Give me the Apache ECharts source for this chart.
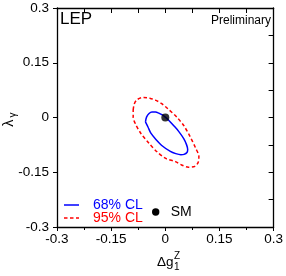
<!DOCTYPE html>
<html>
<head>
<meta charset="utf-8">
<script src="https://cdn.jsdelivr.net/npm/echarts@6/dist/echarts.min.js"></script>
<style>
html,body{margin:0;padding:0;background:#fff;}
#chart{width:286px;height:276px;}
</style>
</head>
<body>
<div id="chart"></div>
<script>
// Tick labels
var xTickLabels = ['-0.3', '-0.15', '0', '0.15', '0.3'];
var yTickLabels = ['-0.3', '-0.15', '0', '0.15', '0.3'];
var tickValues = [-0.3, -0.15, 0, 0.15, 0.3];

// 68% CL contour (Δg1Z, λγ)
var cl68 = [
  [-0.055, -0.012], [-0.052, 0.001], [-0.045, 0.011], [-0.037, 0.015],
  [-0.027, 0.015], [-0.018, 0.012], [-0.008, 0.007], [0.000, 0.001],
  [0.010, -0.008], [0.023, -0.022], [0.037, -0.038], [0.051, -0.058],
  [0.059, -0.075], [0.062, -0.088], [0.060, -0.096], [0.052, -0.101],
  [0.043, -0.102], [0.029, -0.099], [0.014, -0.093], [-0.008, -0.078],
  [-0.026, -0.060], [-0.040, -0.043], [-0.048, -0.026], [-0.055, -0.012]
];

// 95% CL contour
var cl95 = [
  [-0.089, 0.021], [-0.086, 0.037], [-0.078, 0.049], [-0.060, 0.055],
  [-0.043, 0.053], [-0.026, 0.047], [-0.010, 0.038], [0.008, 0.023],
  [0.032, 0.001], [0.051, -0.022], [0.069, -0.053], [0.084, -0.084],
  [0.093, -0.107], [0.091, -0.123], [0.082, -0.134], [0.064, -0.136],
  [0.045, -0.130], [0.028, -0.121], [0.001, -0.112], [-0.023, -0.094],
  [-0.045, -0.071], [-0.068, -0.043], [-0.082, -0.019], [-0.089, 0.001],
  [-0.089, 0.021]
];

// Standard Model point
var smPoint = [[0, 0]];

// Legend entries
var legendNames = ['68% CL', '95% CL', 'SM'];

var FONT = '"Liberation Sans", Arial, Helvetica, sans-serif';
var BLUE = '#0000ff', RED = '#ff0000';
var chart = echarts.init(document.getElementById('chart'), null, {renderer: 'canvas'});

function fmt(labels) {
  return function (v) {
    for (var i = 0; i < tickValues.length; i++) {
      if (Math.abs(v - tickValues[i]) < 1e-6) return labels[i];
    }
    return '';
  };
}

var axisCommon = {
  type: 'value', min: -0.3, max: 0.3, interval: 0.15,
  splitLine: {show: false},
  axisLine: {show: true, onZero: false, lineStyle: {color: '#000', width: 1.3}}
};

chart.setOption({
  animation: false,
  backgroundColor: '#fff',
  grid: {left: 57, right: 10, top: 8, bottom: 49},
  xAxis: [
    Object.assign({}, axisCommon, {
      position: 'bottom',
      axisTick: {show: true, inside: false, length: 4, lineStyle: {color: '#000', width: 1}},
      minorTick: {show: true, splitNumber: 2, length: 3, lineStyle: {color: '#000', width: 1}},
      axisLabel: {show: true, margin: 5, color: '#000', fontSize: 13.5, fontFamily: FONT, formatter: fmt(xTickLabels)}
    }),
    Object.assign({}, axisCommon, {
      position: 'top',
      axisTick: {show: true, inside: true, length: 5, lineStyle: {color: '#000', width: 1}},
      minorTick: {show: true, splitNumber: 2, length: 5, lineStyle: {color: '#000', width: 1}},
      axisLabel: {show: false}
    })
  ],
  yAxis: [
    Object.assign({}, axisCommon, {
      position: 'left',
      axisTick: {show: true, inside: false, length: 4, lineStyle: {color: '#000', width: 1}},
      axisLabel: {show: true, margin: 8, color: '#000', fontSize: 13.5, fontFamily: FONT, formatter: fmt(yTickLabels)}
    }),
    Object.assign({}, axisCommon, {
      position: 'right',
      axisTick: {show: true, inside: true, length: 5, lineStyle: {color: '#000', width: 1}},
      minorTick: {show: true, splitNumber: 2, length: 5, lineStyle: {color: '#000', width: 1}},
      axisLabel: {show: false}
    })
  ],
  series: [
    {
      name: legendNames[1], type: 'line', data: cl95, smooth: 0.3, symbol: 'none',
      xAxisIndex: 0, yAxisIndex: 0,
      lineStyle: {color: RED, width: 1.5, type: [3.5, 2.5]},
      itemStyle: {color: RED}
    },
    {
      name: legendNames[0], type: 'line', data: cl68, smooth: 0.3, symbol: 'none',
      xAxisIndex: 0, yAxisIndex: 0,
      lineStyle: {color: BLUE, width: 1.5},
      itemStyle: {color: BLUE}
    },
    {
      name: legendNames[2], type: 'scatter', data: smPoint, symbol: 'circle', symbolSize: 8,
      xAxisIndex: 0, yAxisIndex: 0, z: 5,
      itemStyle: {color: '#000'}
    }
  ],
  graphic: [
    {type: 'text', left: 60, top: 11, style: {text: 'LEP', fill: '#000', font: '17px ' + FONT}},
    {type: 'text', right: 15, top: 15, style: {text: 'Preliminary', fill: '#000', font: '12px ' + FONT}},
    {type: 'text', x: 157, y: 262.5, style: {text: 'Δg', fill: '#000', font: '13.5px ' + FONT, textAlign: 'left', textVerticalAlign: 'middle'}},
    {type: 'text', x: 174, y: 256.5, style: {text: 'Z', fill: '#000', font: '10px ' + FONT, textAlign: 'left', textVerticalAlign: 'middle'}},
    {type: 'text', x: 174, y: 267.5, style: {text: '1', fill: '#000', font: '10px ' + FONT, textAlign: 'left', textVerticalAlign: 'middle'}},
    {type: 'group', x: 9, y: 117, rotation: Math.PI / 2, children: [
      {type: 'text', x: -6, y: 0, style: {text: 'λ', fill: '#000', font: '14.5px ' + FONT, textAlign: 'center', textVerticalAlign: 'middle'}},
      {type: 'text', x: 2, y: 4, style: {text: 'γ', fill: '#000', font: '10px ' + FONT, textAlign: 'center', textVerticalAlign: 'middle'}}
    ]},
    // legend
    {type: 'line', shape: {x1: 64, y1: 205, x2: 79, y2: 205}, style: {stroke: BLUE, lineWidth: 1.5}},
    {type: 'text', x: 93, y: 205.5, style: {text: legendNames[0], fill: BLUE, font: '14px ' + FONT, textAlign: 'left', textVerticalAlign: 'middle'}},
    {type: 'line', shape: {x1: 64, y1: 218, x2: 79, y2: 218}, style: {stroke: RED, lineWidth: 1.5, lineDash: [3.5, 2.5]}},
    {type: 'text', x: 93, y: 218.5, style: {text: legendNames[1], fill: RED, font: '14px ' + FONT, textAlign: 'left', textVerticalAlign: 'middle'}},
    {type: 'circle', shape: {cx: 155.7, cy: 212, r: 3.7}, style: {fill: '#000'}},
    {type: 'text', x: 170.7, y: 212.5, style: {text: legendNames[2], fill: '#000', font: '14px ' + FONT, textAlign: 'left', textVerticalAlign: 'middle'}}
  ]
});
</script>
</body>
</html>
